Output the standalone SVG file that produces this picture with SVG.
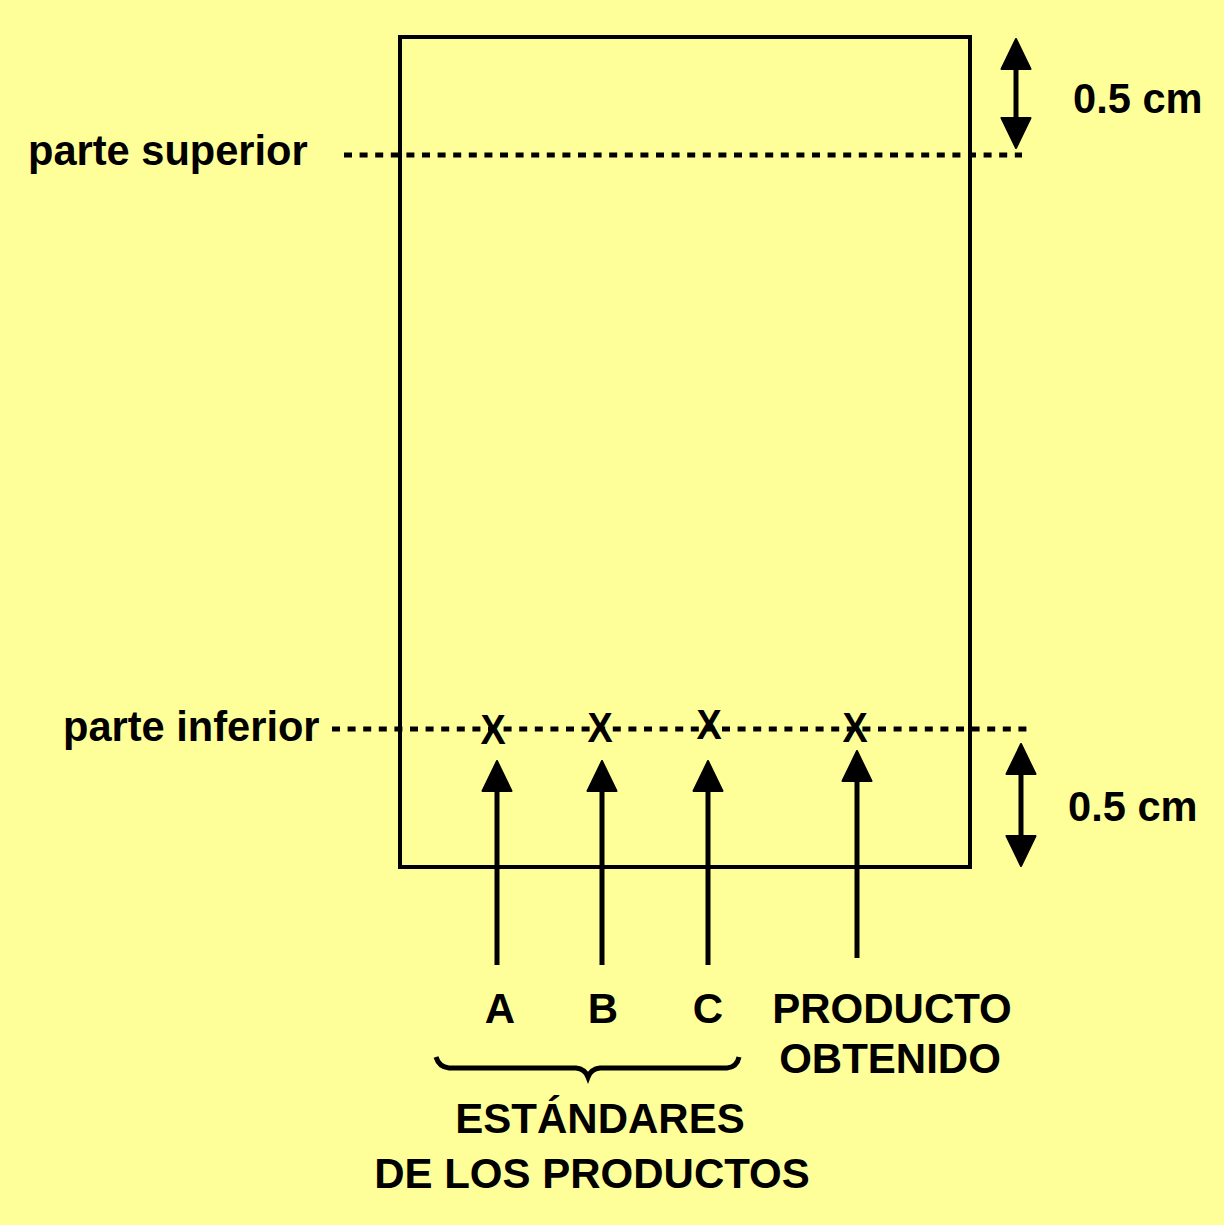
<svg xmlns="http://www.w3.org/2000/svg" width="1224" height="1225" viewBox="0 0 1224 1225">
<style>
.t{font-family:"Liberation Sans",Arial,sans-serif;font-weight:bold;fill:#000}
.lbl{font-size:41.6px}
.cap{font-size:42px}
.x{font-size:42px;text-anchor:middle}
.ln{stroke:#000;stroke-width:4;fill:none}
.br{stroke:#000;stroke-width:5;fill:none}
.dash{stroke:#000;stroke-width:5;stroke-dasharray:8 7.6;fill:none}
.arr{stroke:#000;stroke-width:5;fill:none;marker-end:url(#ah)}
.dbl{stroke:#000;stroke-width:5;fill:none;marker-start:url(#ah);marker-end:url(#ah)}
</style>
<defs>
<marker id="ah" viewBox="0 0 32 32" refX="10" refY="16" markerWidth="32" markerHeight="32" markerUnits="userSpaceOnUse" orient="auto-start-reverse">
<path d="M1,1.5 L31,16 L1,30.5 Z" fill="#000" stroke="#000" stroke-width="2" stroke-linejoin="round"/>
</marker>
</defs>
<rect x="0" y="0" width="1224" height="1225" fill="#FFFF99"/>
<g id="plate">
<rect x="400" y="37" width="570" height="830" class="ln"/>
</g>
<g id="connectors">
<line x1="344" y1="155" x2="1022" y2="155" class="dash"/>
<line x1="332" y1="729" x2="1030" y2="729" class="dash"/>
<line x1="1016" y1="60" x2="1016" y2="127" class="dbl"/>
<line x1="1021" y1="765" x2="1021" y2="845" class="dbl"/>
<line x1="497" y1="965" x2="497" y2="782" class="arr"/>
<line x1="602" y1="965" x2="602" y2="782" class="arr"/>
<line x1="708" y1="965" x2="708" y2="782" class="arr"/>
<line x1="857" y1="958" x2="857" y2="772" class="arr"/>
<path d="M436,1057 Q439,1067 449,1068 L576,1068 Q585,1069 588,1077 Q591,1069 600,1068 L727,1068 Q737,1067 739,1057" class="br"/>
</g>
<g id="marks">
<text class="t x" transform="translate(493,744) scale(0.9,1)">X</text>
<text class="t x" transform="translate(600,742) scale(0.9,1)">X</text>
<text class="t x" transform="translate(709,739) scale(0.9,1)">X</text>
<text class="t x" transform="translate(855,742) scale(0.9,1)">X</text>
</g>
<g id="labels">
<text x="28" y="165" class="t lbl">parte superior</text>
<text x="63" y="741" class="t lbl">parte inferior</text>
<text x="1073" y="113" class="t lbl">0.5 cm</text>
<text x="1068" y="821" class="t lbl">0.5 cm</text>
<text x="500" y="1023" class="t cap" text-anchor="middle">A</text>
<text x="603" y="1023" class="t cap" text-anchor="middle">B</text>
<text x="708" y="1023" class="t cap" text-anchor="middle">C</text>
<text x="892" y="1023" class="t cap" text-anchor="middle">PRODUCTO</text>
<text x="890" y="1073" class="t cap" text-anchor="middle">OBTENIDO</text>
<text x="600" y="1133" class="t cap" text-anchor="middle">ESTÁNDARES</text>
<text x="592" y="1188" class="t cap" text-anchor="middle">DE LOS PRODUCTOS</text>
</g>
</svg>
